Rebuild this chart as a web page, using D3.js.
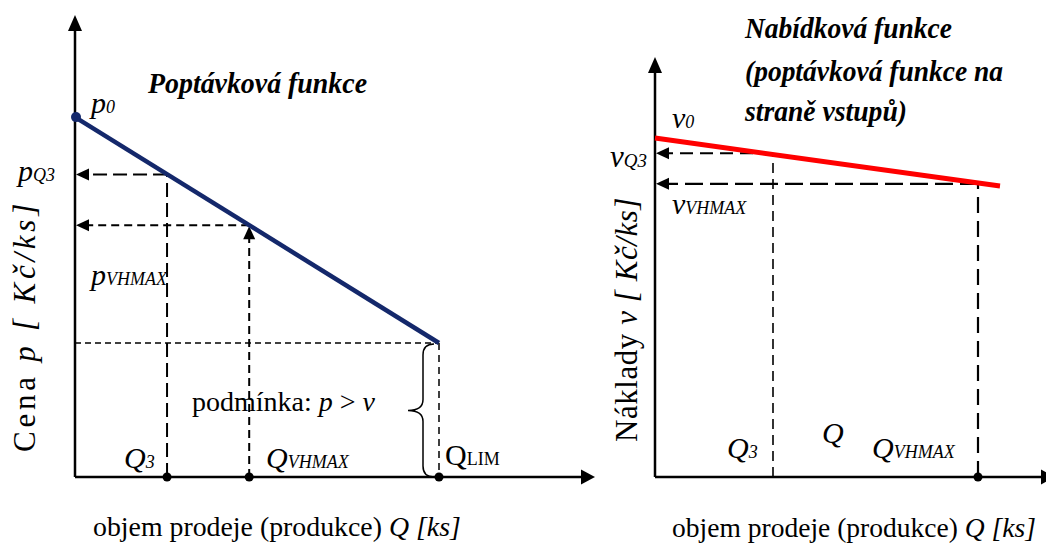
<!DOCTYPE html>
<html>
<head>
<meta charset="utf-8">
<script src="https://cdn.jsdelivr.net/npm/d3@7/dist/d3.min.js"></script>
<style>
  html, body { margin: 0; padding: 0; background: #fff; }
  svg { display: block; }
  text, tspan { font-family: "Liberation Serif", "Times New Roman", serif; fill: #000; }
</style>
</head>
<body>
<svg id="chart" width="1046" height="545"></svg>
<script>
// ---------- data ----------
// Demand function (left): points Q0, Q3, QVHMAX, QLIM
const demandQ = [0, 17.7, 33.5, 70];
const demandP = [77.9, 65.5, 54.5, 29.0];
// Supply function (right): points Q0, Q3, QVHMAX, end of line
const supplyQ = [0, 29.5, 80.75, 86.25];
const supplyV = [80.7, 77.1, 69.8, 69.3];

const leftTitle = "Poptávková funkce";
const rightTitle = ["Nabídková funkce", "(poptávková funkce na", "straně vstupů)"];
const xAxisLabel = ["objem prodeje (produkce) ", "Q [ks]"];
const leftYLabel = ["Cena ", "p [ Kč/ks]"];
const rightYLabel = ["Náklady ", "v [ Kč/ks]"];
const conditionLabel = ["podmínka: ", "p", " > ", "v"];

// ---------- scales ----------
const xL = d3.scaleLinear([0, 100], [75, 595]);
const yL = d3.scaleLinear([0, 100], [477, 15]);
const xR = d3.scaleLinear([0, 100], [655, 1055]);
const yR = d3.scaleLinear([0, 100], [477, 57]);

const svg = d3.select("#chart");
const g = svg.append("g");

function arrowHead(tipX, tipY, dir, len, hw) {
  let pts;
  if (dir === "up") pts = [[tipX, tipY], [tipX - hw, tipY + len], [tipX + hw, tipY + len]];
  else if (dir === "left") pts = [[tipX, tipY], [tipX + len, tipY - hw], [tipX + len, tipY + hw]];
  else pts = [[tipX, tipY], [tipX - len, tipY - hw], [tipX - len, tipY + hw]];
  g.append("polygon").attr("points", pts.map(p => p.join(",")).join(" ")).attr("fill", "#000");
}
function line(x1, y1, x2, y2, w, dash) {
  const l = g.append("line").attr("x1", x1).attr("y1", y1).attr("x2", x2).attr("y2", y2)
    .attr("stroke", "#000").attr("stroke-width", w);
  if (dash) l.attr("stroke-dasharray", dash);
  return l;
}
function label(x, y, parts, size) {
  const t = g.append("text").attr("x", x).attr("y", y).attr("font-size", size)
    .attr("font-family", "Liberation Serif, Times New Roman, serif");
  parts.forEach(p => {
    const s = t.append("tspan").text(p.t);
    if (p.i) s.attr("font-style", "italic");
    if (p.b) s.attr("font-weight", "bold");
    if (p.s) s.attr("font-size", p.s);
  });
  return t;
}
function spreadTo(t, target) {
  const n = t.text().length;
  const w = t.node().getComputedTextLength();
  if (w < target) t.attr("letter-spacing", ((target - w) / n).toFixed(2));
  return t;
}
function sizeTo(t, target) {
  const fs = +t.attr("font-size");
  const w = t.node().getComputedTextLength();
  t.attr("font-size", (fs * target / w).toFixed(2));
  return t;
}

// ================= LEFT CHART =================
line(xL(0), yL(0), xL(0), yL(100) + 14, 2.5);
arrowHead(xL(0), yL(100), "up", 16, 7);
line(xL(0), yL(0), xL(100) - 12, yL(0), 2.5);
arrowHead(xL(100), yL(0), "right", 14, 7.5);

line(xL(demandQ[1]), yL(0), xL(demandQ[1]), yL(demandP[1]), 2, "14,6");
line(xL(demandQ[1]), yL(demandP[1]), xL(0) + 12, yL(demandP[1]), 2, "14,6");
arrowHead(xL(0) + 1, yL(demandP[1]), "left", 13, 6);
line(xL(demandQ[2]), yL(0), xL(demandQ[2]), yL(demandP[2]) + 12, 2, "8,5");
arrowHead(xL(demandQ[2]), yL(demandP[2]) + 1, "up", 13, 6);
line(xL(demandQ[2]), yL(demandP[2]), xL(0) + 12, yL(demandP[2]), 2, "8,5");
arrowHead(xL(0) + 1, yL(demandP[2]), "left", 13, 6);
line(xL(0), yL(demandP[3]), xL(demandQ[3]), yL(demandP[3]), 1.5, "6,4");
line(xL(demandQ[3]), yL(demandP[3]), xL(demandQ[3]), yL(0), 1.5, "7,5");

g.append("line")
  .attr("x1", xL(demandQ[0])).attr("y1", yL(demandP[0]))
  .attr("x2", xL(demandQ[3])).attr("y2", yL(demandP[3]))
  .attr("stroke", "#14286b").attr("stroke-width", 4.5);
g.append("circle").attr("cx", xL(demandQ[0]) + 1).attr("cy", yL(demandP[0])).attr("r", 5).attr("fill", "#14286b");

[demandQ[1], demandQ[2], demandQ[3]].forEach(q => {
  g.append("circle").attr("cx", xL(q)).attr("cy", yL(0)).attr("r", 4.5).attr("fill", "#000");
});

{
  const bx = xL(demandQ[3]) - 16, top = yL(demandP[3]) + 1, bot = yL(0), mid = (top + bot) / 2;
  const tipX = bx - 15, r = 11;
  const d = `M ${bx + 11} ${top} Q ${bx} ${top} ${bx} ${top + r}
             L ${bx} ${mid - r} Q ${bx} ${mid} ${tipX} ${mid}
             Q ${bx} ${mid} ${bx} ${mid + r}
             L ${bx} ${bot - r} Q ${bx} ${bot} ${bx + 11} ${bot}`;
  g.append("path").attr("d", d).attr("fill", "none").attr("stroke", "#000").attr("stroke-width", 1.5);
}

label(148, 93, [{t: leftTitle, i: 1, b: 1}], 29).attr("textLength", 219).attr("lengthAdjust", "spacingAndGlyphs");
label(91, yL(demandP[0]) - 4, [{t: "p", i: 1}, {t: "0", i: 1, s: 18}], 30);
label(18, yL(demandP[1]) + 7, [{t: "p", i: 1}, {t: "Q3", i: 1, s: 18}], 30);
label(91, yL(demandP[2]) + 60, [{t: "p", i: 1}, {t: "VHMAX", i: 1, s: 18}], 30);
label(124, 468, [{t: "Q", i: 1}, {t: "3", i: 1, s: 18}], 30);
label(266, 468, [{t: "Q", i: 1}, {t: "VHMAX", i: 1, s: 18}], 30);
label(445, 465, [{t: "Q"}, {t: "LIM", s: 18}], 30);
label(192, 411, [{t: conditionLabel[0]}, {t: conditionLabel[1], i: 1}, {t: conditionLabel[2]}, {t: conditionLabel[3], i: 1}], 28);
sizeTo(label(93, 536, [{t: xAxisLabel[0]}, {t: xAxisLabel[1], i: 1}], 28), 368);
spreadTo(label(0, 0, [{t: leftYLabel[0]}, {t: leftYLabel[1], i: 1}], 31)
  .attr("transform", "translate(35,452) rotate(-90)"), 252);

// ================= RIGHT CHART =================
line(xR(0), yR(0), xR(0), yR(100) + 14, 2.5);
arrowHead(xR(0), yR(100), "up", 16, 7);
line(xR(0), yR(0), xR(100) - 12, yR(0), 2.5);
arrowHead(xR(100), yR(0), "right", 14, 7.5);

line(xR(supplyQ[1]), yR(0), xR(supplyQ[1]), yR(supplyV[1]), 1.6, "10,6");
line(xR(supplyQ[1]), yR(supplyV[1]), xR(0) + 12, yR(supplyV[1]), 2, "13,7");
arrowHead(xR(0) + 1, yR(supplyV[1]), "left", 13, 6);
line(xR(supplyQ[2]), yR(0), xR(supplyQ[2]), yR(supplyV[2]), 2.2, "16,8");
line(xR(supplyQ[2]), yR(supplyV[2]), xR(0) + 12, yR(supplyV[2]), 2.2, "18,7");
arrowHead(xR(0) + 1, yR(supplyV[2]), "left", 13, 6);

g.append("line")
  .attr("x1", xR(supplyQ[0])).attr("y1", yR(supplyV[0]))
  .attr("x2", xR(supplyQ[3])).attr("y2", yR(supplyV[3]))
  .attr("stroke", "#ff0000").attr("stroke-width", 5);

g.append("circle").attr("cx", xR(supplyQ[2])).attr("cy", yR(0)).attr("r", 4.5).attr("fill", "#000");

const titleWidths = [207, 258, 162];
rightTitle.forEach((s, i) => {
  label(745, [38, 81, 121][i], [{t: s, i: 1, b: 1}], 29).attr("textLength", titleWidths[i]).attr("lengthAdjust", "spacingAndGlyphs");
});
label(672, yR(supplyV[0]) - 10, [{t: "v", i: 1}, {t: "0", i: 1, s: 18}], 30);
label(610, yR(supplyV[1]) + 14, [{t: "v", i: 1}, {t: "Q3", i: 1, s: 19}], 31);
label(672, yR(supplyV[2]) + 30, [{t: "v", i: 1}, {t: "VHMAX", i: 1, s: 18}], 30);
label(727, 458, [{t: "Q", i: 1}, {t: "3", i: 1, s: 18}], 30);
label(822, 443, [{t: "Q", i: 1}], 30);
label(872, 458, [{t: "Q", i: 1}, {t: "VHMAX", i: 1, s: 18}], 30);
sizeTo(label(672, 537, [{t: xAxisLabel[0]}, {t: xAxisLabel[1], i: 1}], 28), 364);
spreadTo(label(0, 0, [{t: rightYLabel[0]}, {t: rightYLabel[1], i: 1}], 31)
  .attr("transform", "translate(637,442) rotate(-90)"), 245);
</script>
</body>
</html>
